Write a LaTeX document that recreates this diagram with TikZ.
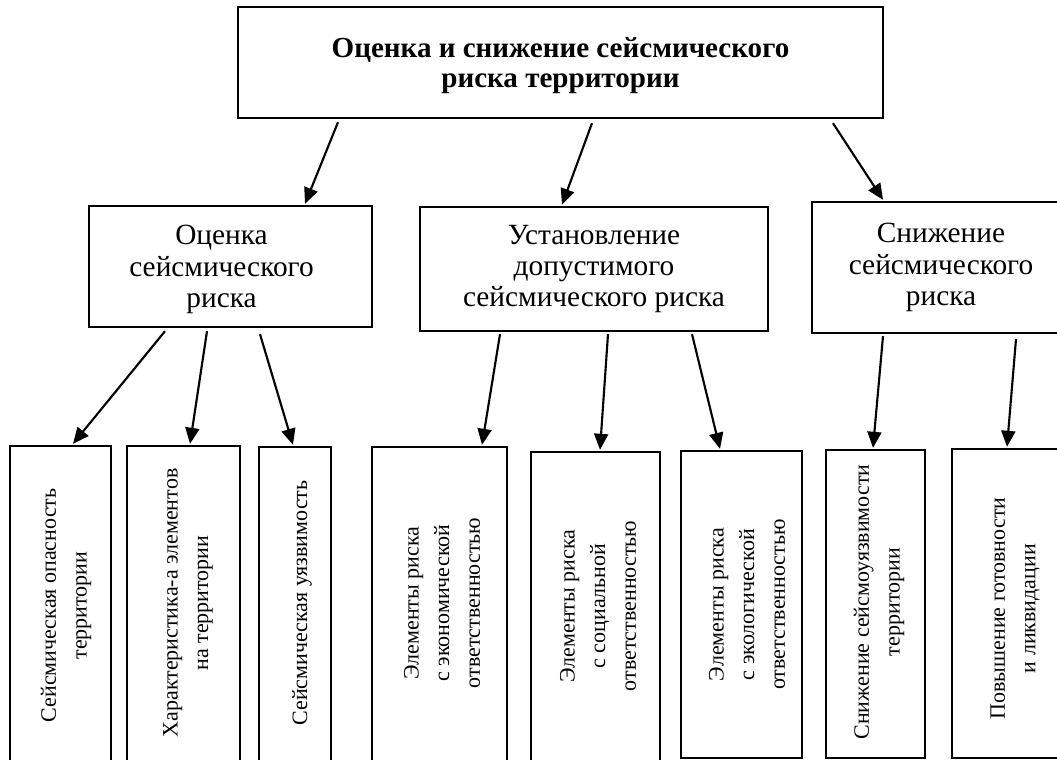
\documentclass[tikz,border=0pt]{standalone}
\usepackage{fontspec}
\setmainfont{Liberation Serif}
\usetikzlibrary{arrows.meta}
\begin{document}
\begin{tikzpicture}[x=0.75pt,y=-0.75pt,
  box/.style={draw,line width=1.8pt,inner sep=0pt,anchor=center},
  sz/.style 2 args={minimum width=#1*0.75pt,minimum height=#2*0.75pt},
  arr/.style={line width=1.6pt,-{Triangle[length=12pt,width=10.5pt]}},
  ttl/.style={font=\bfseries\fontsize{21.8}{22}\selectfont,align=center,inner sep=0pt},
  mid/.style={font=\fontsize{22}{23.5}\selectfont,align=center,inner sep=0pt},
  vt/.style={rotate=90,font=\fontsize{16.5}{23}\selectfont,align=center,inner sep=0pt}]
\useasboundingbox (0,0) rectangle (1057,760);
\clip (0,0) rectangle (1057,760);
\fill[white] (0,0) rectangle (1057,760);

% top
\node[box,sz={645}{111}] (T) at (560.5,62.5) {};
\node[ttl] (tt) at ([shift={(0,3)}]T.center) {Оценка и снижение сейсмического\\риска территории};

% middle
\node[box,sz={283}{121}] (M1) at (230.5,266.5) {};
\node[mid] (m1t) at ([shift={(-9,3)}]M1.center) {Оценка\\сейсмического\\риска};
\node[box,sz={348}{124},mid] (M2) at (594,269) {Установление\\допустимого\\сейсмического риска};
\node[box,sz={258}{131},mid] (M3) at (941,267.5) {Снижение\\сейсмического\\риска};

% bottom boxes
\node[box,sz={101}{319}] (B1) at (60.5,605.5) {};
\node[box,sz={113}{319}] (B2) at (183.5,605.5) {};
\node[box,sz={72}{318}] (B3) at (295,606) {};
\node[box,sz={135}{318}] (B4) at (439.5,606) {};
\node[box,sz={129}{313}] (B5) at (595.5,608.5) {};
\node[box,sz={121}{307}] (B6) at (741.5,604.5) {};
\node[box,sz={99}{308}] (B7) at (875.5,604) {};
\node[box,sz={126}{309}] (B8) at (1015,603.5) {};

% bottom texts
\node[vt] (t1) at ([shift={(5.5,0)}]B1.center) {Сейсмическая опасность\\территории};
\node[vt] (t2) at ([shift={(4.5,-2.5)}]B2.center) {Характеристика-а элементов\\на территории};
\node[vt] (t3) at ([shift={(7,-3)}]B3.center) {Сейсмическая уязвимость};
\node[vt] (t4) at ([shift={(2.5,-3)}]B4.center) {Элементы риска\\с экономической\\ответственностью};
\node[vt] (t5) at ([shift={(2.5,-2.5)}]B5.center) {Элементы риска\\с социальной\\ответственностью};
\node[vt] (t6) at ([shift={(5.5,0)}]B6.center) {Элементы риска\\с экологической\\ответственностью};
\node[vt] (t7) at ([shift={(3.5,-2)}]B7.center) {Снижение сейсмоуязвимости\\территории};
\node[vt] (t8) at ([shift={(0,5)}]B8.center) {Повышение готовности\\и ликвидации};

% arrows
\draw[arr] ([shift={(-222.5,3)}]T.south) -- ([shift={(74.5,-1)}]M1.north);
\draw[arr] ([shift={(31.5,4)}]T.south) -- ([shift={(-32,-1)}]M2.north);
\draw[arr] ([shift={(272.5,4)}]T.south) -- ([shift={(-58,-1)}]M3.north);

\draw[arr] ([shift={(-65.5,3)}]M1.south) -- ([shift={(12.5,-1)}]B1.north);
\draw[arr] ([shift={(-23.5,3)}]M1.south) -- ([shift={(6.5,-1)}]B2.north);
\draw[arr] ([shift={(29.5,6)}]M1.south) -- ([shift={(-2,-1)}]B3.north);

\draw[arr] ([shift={(-94,2)}]M2.south) -- ([shift={(42.5,-1)}]B4.north);
\draw[arr] ([shift={(14,2)}]M2.south) -- ([shift={(4.5,-1)}]B5.north);
\draw[arr] ([shift={(98,2)}]M2.south) -- ([shift={(-21.5,-1)}]B6.north);

\draw[arr] ([shift={(-58,2)}]M3.south) -- ([shift={(-2.5,-1)}]B7.north);
\draw[arr] ([shift={(75,5)}]M3.south) -- ([shift={(-8,-1)}]B8.north);
\end{tikzpicture}
\end{document}
